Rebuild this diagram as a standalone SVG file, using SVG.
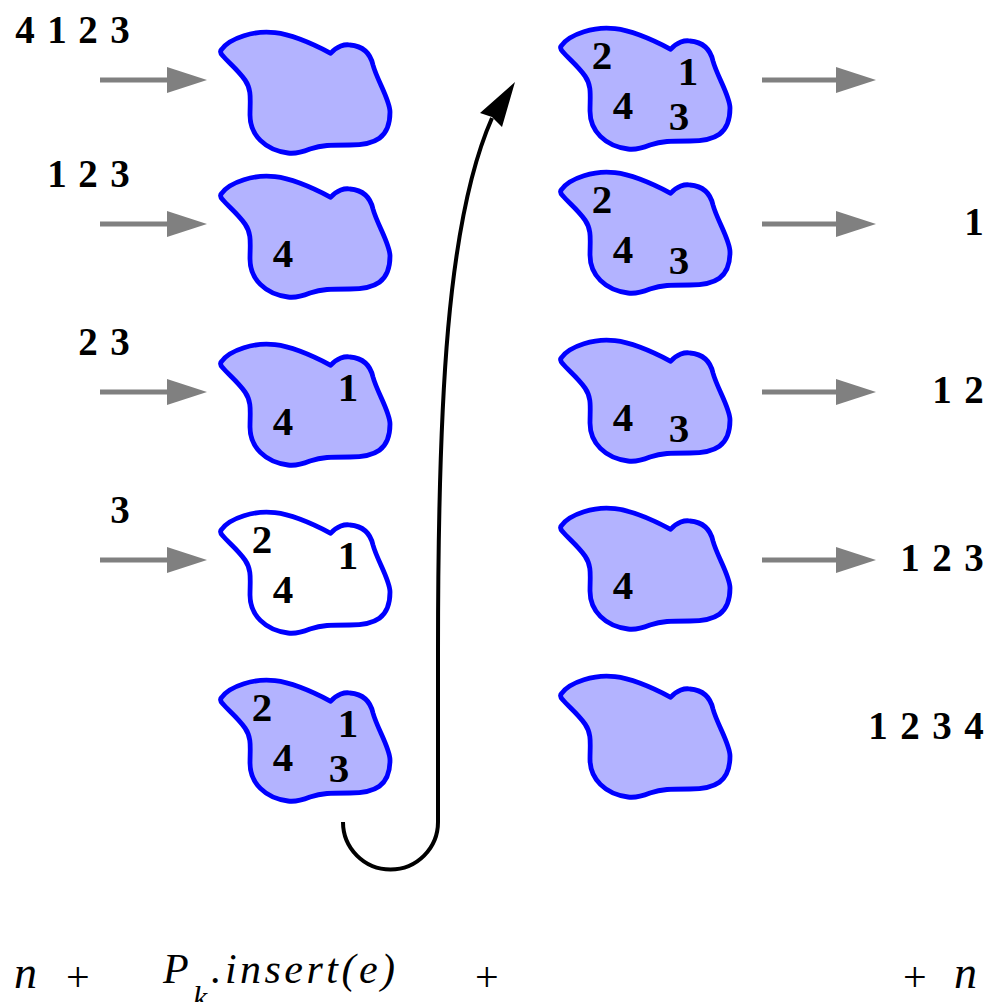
<svg xmlns="http://www.w3.org/2000/svg" xmlns:xlink="http://www.w3.org/1999/xlink" width="990" height="1002" viewBox="0 0 990 1002">
<style>
.blob{fill:#b3b3ff;stroke:#0000ff;stroke-width:4.8;stroke-linejoin:round}
.blob.empty{fill:#ffffff}
text{font-family:"Liberation Serif",serif;fill:#000}
.d{font-weight:700;font-size:41px;text-anchor:middle}
.lab{font-weight:700;font-size:39px;text-anchor:middle}
.gar{stroke:#808080;stroke-width:5;fill:none}
.m{font-style:italic}
.op{font-size:42px}
</style>
<defs>
<path id="shape" d="M 11.7,29.3 C 20,18 45,10 65,12.7 C 85,15 105,25 120.7,33.3 C 127,26 135,24 140,25 C 152,26 160,32 163,45 C 167,60 180,80 180,92 C 180,118 165,125 140,125 C 120,125 112,125 100,129 C 90,133 85,134 78,133 C 55,130 40,115 40,95 C 40,80 42,70 35,60 C 28,50 18,42 13,36 C 10,33 10,31 11.7,29.3 Z"/>
<marker id="gh" markerUnits="userSpaceOnUse" markerWidth="40" markerHeight="26" viewBox="0 0 40 26" refX="1" refY="13" orient="auto">
<path d="M0,0 L40,13 L0,26 Z" fill="#808080"/>
</marker>
</defs>

<!-- left labels -->
<g id="inputs">
<text class="lab" x="25 57 88 120" y="43">4123</text>
<text class="lab" x="57 88 120" y="187">123</text>
<text class="lab" x="88 120" y="355">23</text>
<text class="lab" x="120" y="523">3</text>
</g>

<!-- left blobs -->
<g id="L1" transform="translate(210,20)"><use xlink:href="#shape" class="blob"/></g>
<g id="L2" transform="translate(210,164)"><use xlink:href="#shape" class="blob"/>
<text class="d" x="73" y="103">4</text></g>
<g id="L3" transform="translate(210,332)"><use xlink:href="#shape" class="blob"/>
<text class="d" x="138" y="69">1</text><text class="d" x="73" y="103">4</text></g>
<g id="L4" transform="translate(210,500)"><use xlink:href="#shape" class="blob empty"/>
<text class="d" x="52" y="53">2</text><text class="d" x="138" y="69">1</text><text class="d" x="73" y="103">4</text></g>
<g id="L5" transform="translate(210,668)"><use xlink:href="#shape" class="blob"/>
<text class="d" x="52" y="53">2</text><text class="d" x="138" y="69">1</text><text class="d" x="73" y="103">4</text><text class="d" x="129" y="114">3</text></g>

<!-- right blobs -->
<g id="R1" transform="translate(550,16)"><use xlink:href="#shape" class="blob"/>
<text class="d" x="52" y="53">2</text><text class="d" x="138" y="69">1</text><text class="d" x="73" y="103">4</text><text class="d" x="129" y="114">3</text></g>
<g id="R2" transform="translate(550,160)"><use xlink:href="#shape" class="blob"/>
<text class="d" x="52" y="53">2</text><text class="d" x="73" y="103">4</text><text class="d" x="129" y="114">3</text></g>
<g id="R3" transform="translate(550,328)"><use xlink:href="#shape" class="blob"/>
<text class="d" x="73" y="103">4</text><text class="d" x="129" y="114">3</text></g>
<g id="R4" transform="translate(550,496)"><use xlink:href="#shape" class="blob"/>
<text class="d" x="73" y="103">4</text></g>
<g id="R5" transform="translate(550,664)"><use xlink:href="#shape" class="blob"/></g>

<!-- right labels -->
<g id="outputs">
<text class="lab" x="974" y="235">1</text>
<text class="lab" x="942 974" y="403">12</text>
<text class="lab" x="910 942 974" y="571">123</text>
<text class="lab" x="878 910 942 974" y="739">1234</text>
</g>

<!-- formula -->
<g id="formula">
<text class="m" x="14" y="988" style="font-size:46px">n</text>
<text class="op" x="66" y="991">+</text>
<text class="m" x="163" y="983" style="font-size:42px">P</text>
<text class="m" x="193" y="1008" style="font-size:32px">k</text>
<text class="m" x="211" y="983" style="font-size:42px" textLength="184" lengthAdjust="spacing">.insert(e)</text>
<text class="op" x="475" y="991">+</text>
<text class="op" x="903" y="991">+</text>
<text class="m" x="954" y="988" style="font-size:46px">n</text>
</g>

<!-- connectors -->
<g id="connectors">
<line class="gar" x1="100" y1="80" x2="168" y2="80" marker-end="url(#gh)"/>
<line class="gar" x1="100" y1="224" x2="168" y2="224" marker-end="url(#gh)"/>
<line class="gar" x1="100" y1="392" x2="168" y2="392" marker-end="url(#gh)"/>
<line class="gar" x1="100" y1="560" x2="168" y2="560" marker-end="url(#gh)"/>
<line class="gar" x1="762" y1="80" x2="837" y2="80" marker-end="url(#gh)"/>
<line class="gar" x1="762" y1="224" x2="837" y2="224" marker-end="url(#gh)"/>
<line class="gar" x1="762" y1="392" x2="837" y2="392" marker-end="url(#gh)"/>
<line class="gar" x1="762" y1="560" x2="837" y2="560" marker-end="url(#gh)"/>
<path d="M 343,822 A 47.5,47.5 0 0 0 438,822 L 438,650 C 438,400 447,220 492,118" fill="none" stroke="#000" stroke-width="4"/>
<polygon points="515,82 480,113 492,117 502,127" fill="#000"/>
</g>
</svg>
